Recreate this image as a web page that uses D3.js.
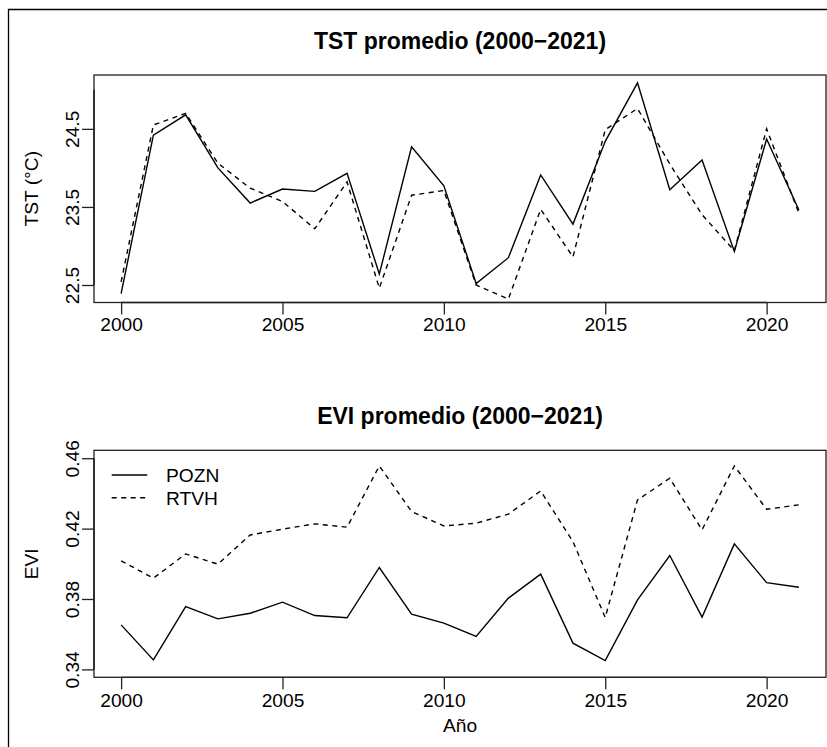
<!DOCTYPE html>
<html>
<head>
<meta charset="utf-8">
<script src="https://cdn.jsdelivr.net/npm/d3@7"></script>
<style>
  html, body { margin: 0; padding: 0; background: #fff; }
  svg { display: block; font-family: "Liberation Sans", Arial, Helvetica, sans-serif; }
</style>
</head>
<body>
<div id="chart"></div>
<script>
// Datos
const years = d3.range(2000, 2022);

const tstPOZN = [22.39, 24.42, 24.68, 24.00, 23.55, 23.73, 23.70, 23.93, 22.64, 24.27,
                 23.77, 22.52, 22.85, 23.91, 23.28, 24.34, 25.09, 23.72, 24.10, 22.93,
                 24.37, 23.46];
const tstRTVH = [22.54, 24.55, 24.70, 24.06, 23.74, 23.57, 23.22, 23.82, 22.46, 23.65,
                 23.71, 22.50, 22.32, 23.47, 22.86, 24.49, 24.76, 24.05, 23.40, 22.94,
                 24.50, 23.42];

const eviPOZN = [0.3653, 0.3454, 0.3757, 0.3687, 0.3719, 0.3782, 0.3706, 0.3693, 0.3979, 0.3714,
                 0.3663, 0.3587, 0.3805, 0.3941, 0.3549, 0.3450, 0.3795, 0.4047, 0.3697, 0.4113,
                 0.3893, 0.3867];
const eviRTVH = [0.4017, 0.3918, 0.4056, 0.3998, 0.4164, 0.4197, 0.4227, 0.4208, 0.4556, 0.4297,
                 0.4215, 0.4231, 0.4282, 0.4414, 0.4126, 0.3695, 0.4363, 0.4486, 0.4193, 0.4556,
                 0.4310, 0.4335];

const xTicks = [2000, 2005, 2010, 2015, 2020];
const tstTicks = [22.5, 23.5, 24.5];
const eviTicks = [0.34, 0.38, 0.42, 0.46];
const legendLabels = ["POZN", "RTVH"];

const width = 827, height = 747;
const fontSize = 19.2;

const svg = d3.select("#chart").append("svg")
  .attr("width", width)
  .attr("height", height);

// Marco exterior (recortado por la ventana)
svg.append("path")
  .attr("d", `M8.5,${height} V9.5 H${width}`)
  .attr("fill", "none")
  .attr("stroke", "#000")
  .attr("stroke-width", 1.3);

const x = d3.scaleLinear().domain([1999.16, 2021.84]).range([94, 826]);

// Dibuja un panel completo
function drawPanel(opts) {
  const { top, bottom, yDomain, yTicks, yFormat, axisTop, title, titleY, ylab,
          xlabY, series, showLegend, xTitle } = opts;
  const y = d3.scaleLinear().domain(yDomain).range([bottom, top]);
  const g = svg.append("g");

  // Líneas de datos
  const line = d3.line().x((d, i) => x(years[i])).y(d => y(d));
  series.forEach(s => {
    g.append("path")
      .datum(s.values)
      .attr("fill", "none")
      .attr("stroke", "#000")
      .attr("stroke-width", 1.4)
      .attr("stroke-dasharray", s.dash)
      .attr("d", line);
  });

  // Caja
  g.append("rect")
    .attr("x", x.range()[0])
    .attr("y", top)
    .attr("width", x.range()[1] - x.range()[0])
    .attr("height", bottom - top)
    .attr("fill", "none")
    .attr("stroke", "#222")
    .attr("stroke-width", 1.3);

  // Eje X
  const xAxis = g.append("g")
    .attr("transform", `translate(0,${bottom})`)
    .call(d3.axisBottom(x).tickValues(xTicks).tickFormat(d3.format("d"))
      .tickSize(12).tickSizeOuter(0));
  xAxis.select(".domain").remove();
  xAxis.selectAll(".tick line").attr("stroke", "#222").attr("stroke-width", 1.3);
  xAxis.selectAll(".tick text")
    .attr("font-size", fontSize)
    .attr("font-family", "Liberation Sans, Arial, sans-serif")
    .attr("fill", "#000")
    .attr("y", null).attr("dy", null)
    .attr("transform", `translate(0,${xlabY - bottom})`);
  g.append("line")
    .attr("x1", x(xTicks[0])).attr("x2", x(xTicks[xTicks.length - 1]))
    .attr("y1", bottom).attr("y2", bottom)
    .attr("stroke", "#222").attr("stroke-width", 1.3);

  // Eje Y
  const yAxis = g.append("g")
    .attr("transform", `translate(${x.range()[0]},0)`)
    .call(d3.axisLeft(y).tickValues(yTicks).tickFormat(yFormat)
      .tickSize(12).tickSizeOuter(0));
  yAxis.select(".domain").remove();
  yAxis.selectAll(".tick line").attr("stroke", "#222").attr("stroke-width", 1.3);
  yAxis.selectAll(".tick text")
    .attr("font-size", fontSize)
    .attr("font-family", "Liberation Sans, Arial, sans-serif")
    .attr("fill", "#000")
    .attr("x", null).attr("dy", null)
    .attr("text-anchor", "middle")
    .attr("transform", `translate(-15,0) rotate(-90)`);
  g.append("line")
    .attr("x1", x.range()[0]).attr("x2", x.range()[0])
    .attr("y1", y(yTicks[0])).attr("y2", y(axisTop))
    .attr("stroke", "#222").attr("stroke-width", 1.6);

  // Título
  svg.append("text")
    .attr("x", (x.range()[0] + x.range()[1]) / 2)
    .attr("y", titleY)
    .attr("text-anchor", "middle")
    .attr("font-size", 23)
    .attr("font-weight", "bold")
    .text(title);

  // Etiqueta eje Y
  const cy = (top + bottom) / 2;
  svg.append("text")
    .attr("transform", `translate(38,${cy}) rotate(-90)`)
    .attr("text-anchor", "middle")
    .attr("font-size", fontSize)
    .text(ylab);

  if (xTitle) {
    svg.append("text")
      .attr("x", (x.range()[0] + x.range()[1]) / 2)
      .attr("y", 731.5)
      .attr("text-anchor", "middle")
      .attr("font-size", fontSize)
      .text(xTitle);
  }

  if (showLegend) {
    const leg = svg.append("g");
    series.forEach((s, i) => {
      const ly = 475 + i * 22.7;
      leg.append("line")
        .attr("x1", 111.7).attr("x2", 147.3)
        .attr("y1", ly).attr("y2", ly)
        .attr("stroke", "#000").attr("stroke-width", 1.4)
        .attr("stroke-dasharray", s.dash);
      leg.append("text")
        .attr("x", 166)
        .attr("y", ly + 6.8)
        .attr("font-size", fontSize)
        .text(legendLabels[i]);
    });
  }
}

drawPanel({
  top: 75, bottom: 302.5,
  yDomain: [22.276, 25.19],
  yTicks: tstTicks,
  yFormat: d3.format(".1f"),
  axisTop: 25.0,
  title: "TST promedio (2000\u22122021)",
  titleY: 49,
  ylab: "TST (°C)",
  xlabY: 331,
  series: [
    { values: tstPOZN, dash: null },
    { values: tstRTVH, dash: "5,4.5" }
  ]
});

drawPanel({
  top: 450.3, bottom: 677.3,
  yDomain: [0.3355, 0.4645],
  yTicks: eviTicks,
  yFormat: d3.format(".2f"),
  axisTop: 0.46,
  title: "EVI promedio (2000\u22122021)",
  titleY: 423.5,
  ylab: "EVI",
  xlabY: 706.5,
  xTitle: "Año",
  showLegend: true,
  series: [
    { values: eviPOZN, dash: null },
    { values: eviRTVH, dash: "5,4.5" }
  ]
});
</script>
</body>
</html>
